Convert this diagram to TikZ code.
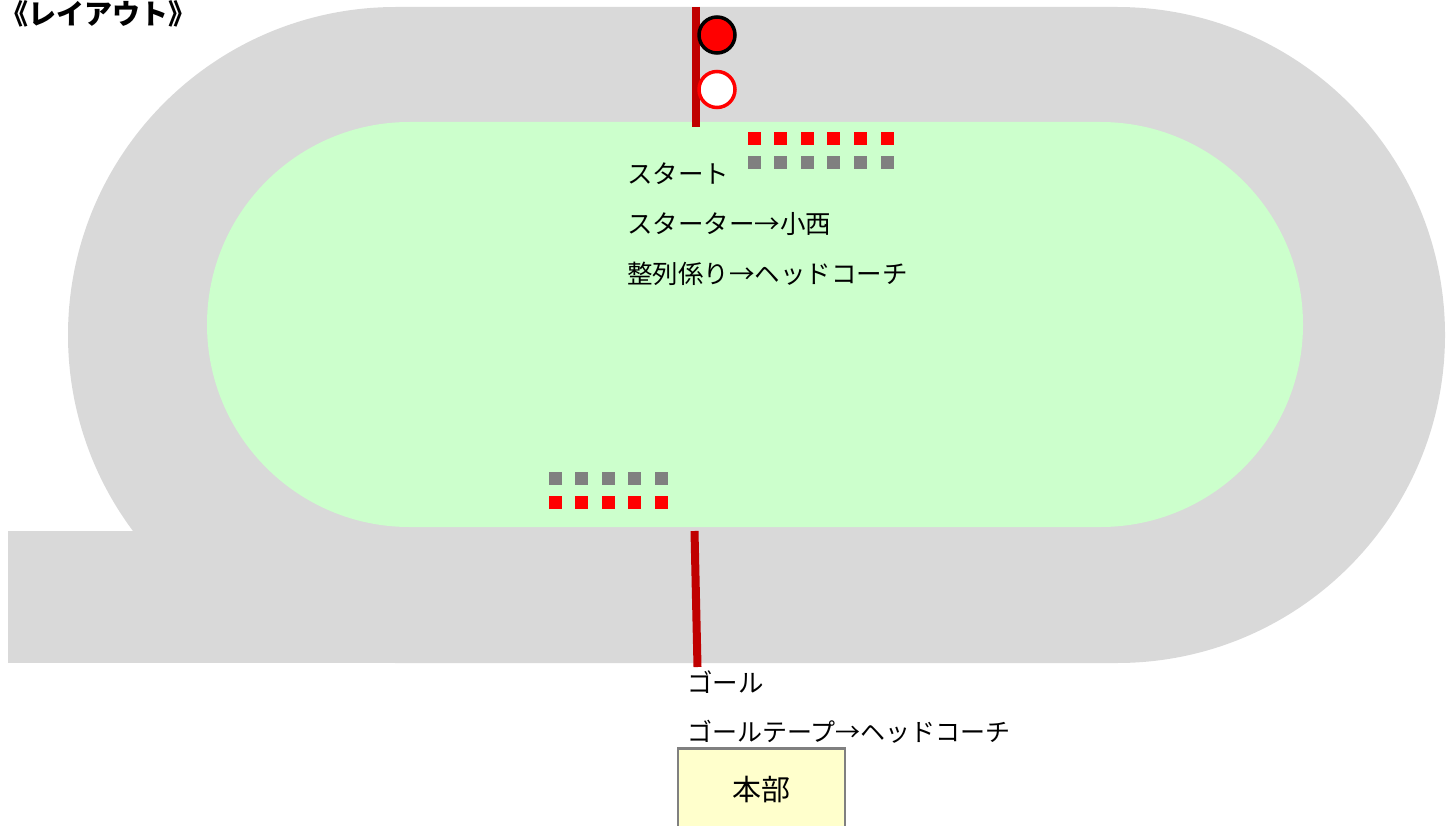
\documentclass[tikz,border=0pt]{standalone}
\usepackage{fontspec}
\setmainfont{Noto Sans CJK JP}
\definecolor{trackgray}{HTML}{D9D9D9}
\definecolor{fieldgreen}{HTML}{CCFFCC}
\definecolor{darkred}{HTML}{C00000}
\definecolor{conegray}{HTML}{808080}
\definecolor{hqyellow}{HTML}{FFFFCC}
\tikzset{
  lbl/.style={anchor=west, inner sep=0pt, font=\fontsize{25.5}{30}\selectfont},
  redsq/.style={fill=red, minimum size=13pt, inner sep=0pt, draw=none},
  graysq/.style={fill=conegray, minimum size=13pt, inner sep=0pt, draw=none},
  tape/.style={draw=darkred, line width=8pt},
}
\begin{document}
\begin{tikzpicture}[x=1pt,y=1pt]
\useasboundingbox (0,0) rectangle (1453,-826);
% outer track
\fill[trackgray] (396,-7) -- (1117,-7) arc[start angle=90,end angle=-90,radius=328]
  -- (396,-663) arc[start angle=270,end angle=90,radius=328] -- cycle;
\fill[trackgray] (8,-531) rectangle (1117,-663);
% infield
\fill[fieldgreen] (409.5,-122) -- (1100.5,-122) arc[start angle=90,end angle=-90,radius=202.5]
  -- (409.5,-527) arc[start angle=270,end angle=90,radius=202.5] -- cycle;
% start line and goal line
\coordinate (st1) at (696,-7);
\coordinate (st2) at (696,-127);
\draw[tape] (st1) -- (st2);
\coordinate (gl1) at (694.5,-531);
\coordinate (gl2) at (697.5,-667);
\draw[tape] (gl1) -- (gl2);
% signals
\node[circle, fill=red, draw=black, line width=3.5pt, minimum size=36pt, inner sep=0pt] (sig1) at (717,-35) {};
\node[circle, fill=white, draw=red, line width=3.5pt, minimum size=36pt, inner sep=0pt] (sig2) at (717,-89.5) {};
% cones
\foreach \i in {0,...,5} {
  \node[redsq] (tr\i) at (754+26.6*\i,-138.5) {};
  \node[graysq] (tg\i) at (754+26.6*\i,-162.5) {};
}
\foreach \i in {0,...,4} {
  \node[graysq] (bg\i) at (555+26.6*\i,-478.5) {};
  \node[redsq] (br\i) at (555+26.6*\i,-502.5) {};
}
% labels
\node[lbl, font=\fontsize{28}{32}\selectfont\bfseries] (title) at (0,-14) {《レイアウト》};
\node[lbl] (t1) at (627,-174) {スタート};
\node[lbl] (t2) at (627,-224) {スターター→小西};
\node[lbl] (t3) at (627,-274) {整列係り→ヘッドコーチ};
\node[lbl] (g1) at (687,-682) {ゴール};
\node[lbl, font=\fontsize{25}{30}\selectfont] (g2) at (687,-732) {ゴールテープ→ヘッドコーチ};
% headquarters
\node[draw=conegray, fill=hqyellow, line width=2.5pt, minimum width=167pt, minimum height=82pt, inner sep=0pt] (hq) at (761.5,-789.5) {};
\node[inner sep=0pt, font=\fontsize{29}{32}\selectfont] (hqt) at (761,-790) {本部};
\end{tikzpicture}
\end{document}
